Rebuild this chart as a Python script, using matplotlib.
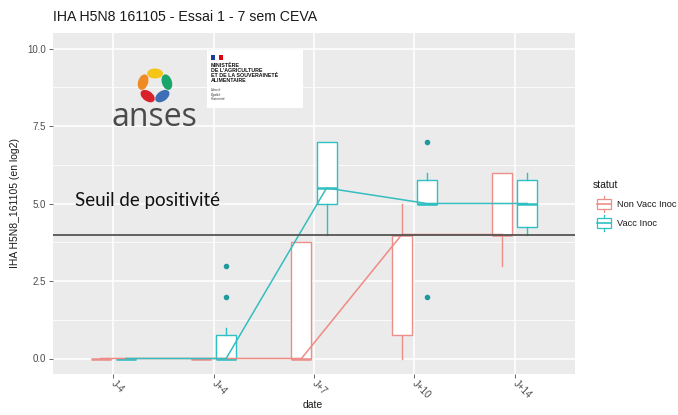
import matplotlib
matplotlib.use("Agg")
import math
import matplotlib.pyplot as plt
from matplotlib.patches import Rectangle, Ellipse
from matplotlib.lines import Line2D
from matplotlib.transforms import IdentityTransform

# ---------------- data ----------------
dates = ["J-4", "J+4", "J+7", "J+10", "J+14"]
groups = ["Non Vacc Inoc", "Vacc Inoc"]

nv_q1 = [0, 0, 0, 0.75, 4]
nv_med = [0, 0, 0, 4, 4]
nv_q3 = [0, 0, 3.75, 4, 6]
nv_lo = [0, 0, 0, 0, 3]
nv_hi = [0, 0, 3.75, 5, 6]
nv_out = [[], [], [], [], []]

v_q1 = [0, 0, 5, 5, 4.25]
v_med = [0, 0, 5.5, 5, 5]
v_q3 = [0, 0.75, 7, 5.75, 5.75]
v_lo = [0, 0, 4, 5, 4]
v_hi = [0, 1, 7, 6, 6]
v_out = [[], [2, 3], [], [7, 2], []]

threshold = 4.0
yticks = [0.0, 2.5, 5.0, 7.5, 10.0]

title = "IHA H5N8 161105 - Essai 1 - 7 sem CEVA"
ylabel = "IHA H5N8_161105 (en log2)"
xlabel = "date"
seuil_label = "Seuil de positivité"
legend_title = "statut"

# ---------------- style ----------------
PINK = "#EC8F8A"
TEAL = "#2EC0C3"
PINK_L = "#F08A84"
TEAL_L = "#35BDBF"
FLIER = "#229A9D"

plt.rcParams['font.family'] = ['Liberation Sans', 'DejaVu Sans']

W, H = 678, 415
fig = plt.figure(figsize=(W / 100, H / 100), dpi=100)
fig.patch.set_facecolor("white")

def fx(px):
    return px / W

def fy(py):
    return 1 - py / H

ax = fig.add_axes([fx(53), fy(374), fx(575) - fx(53), fy(33) - fy(374)])
ax.set_facecolor("#EBEBEB")
for s in ax.spines.values():
    s.set_visible(False)

ax.set_xlim(0.4, 5.6)
ax.set_ylim(-0.5, 10.5)

# grid
for yv in [1.25, 3.75, 6.25, 8.75]:
    ax.axhline(yv, color="white", lw=0.55, zorder=0)
for yv in yticks:
    ax.axhline(yv, color="white", lw=1.1, zorder=0)
for xv in range(1, len(dates) + 1):
    ax.axvline(xv, color="white", lw=1.1, zorder=0)

off = 0.125
bw = 0.2

def stats(q1, med, q3, lo, hi, out):
    return [dict(q1=a, med=b, q3=c, whislo=d, whishi=e, fliers=f)
            for a, b, c, d, e, f in zip(q1, med, q3, lo, hi, out)]

pos_nv = [i + 1 - off for i in range(len(dates))]
pos_v = [i + 1 + off for i in range(len(dates))]

for st, pos, col in [(stats(nv_q1, nv_med, nv_q3, nv_lo, nv_hi, nv_out), pos_nv, PINK),
                     (stats(v_q1, v_med, v_q3, v_lo, v_hi, v_out), pos_v, TEAL)]:
    ax.bxp(st, positions=pos, widths=bw, patch_artist=True, showcaps=False,
           boxprops=dict(facecolor="white", edgecolor=col, lw=1.0),
           whiskerprops=dict(color=col, lw=1.0),
           medianprops=dict(color=col, lw=1.8),
           flierprops=dict(marker="o", markersize=3, markerfacecolor=FLIER,
                           markeredgecolor=FLIER),
           manage_ticks=False, zorder=2)

ax.plot(pos_nv, nv_med, color=PINK_L, lw=1.1, zorder=3)
ax.plot(pos_v, v_med, color=TEAL_L, lw=1.1, zorder=3)

ax.axhline(threshold, color="#555555", lw=1.3, zorder=4)

ax.set_yticks(yticks)
ax.set_yticklabels([f"{v:.1f}" for v in yticks], fontsize=7, color="#4D4D4D")
ax.set_xticks(range(1, len(dates) + 1))
ax.set_xticklabels(dates, fontsize=7, color="#4D4D4D", rotation=-45,
                   rotation_mode="anchor", ha="left", va="center")
ax.tick_params(axis="both", length=3, color="#4D4D4D", width=0.6, pad=2)
ax.tick_params(axis="x", pad=3)

ax.set_ylabel(ylabel, fontsize=7.5, color="#1A1A1A", labelpad=5)
fig.text(fx(313), fy(405), xlabel, fontsize=7.5, color="#1A1A1A", ha="center", va="center")

fig.text(fx(53), fy(17), title, fontsize=10.2, color="#1A1A1A", ha="left", va="center")

# seuil annotation
fig.text(fx(75), fy(200), seuil_label, fontsize=13.5, color="#111111",
         family=["Lato", "DejaVu Sans"], ha="left", va="center")

# ---------------- legend (manual) ----------------
fig.text(fx(593), fy(185), legend_title, fontsize=7.5, color="#1A1A1A", ha="left", va="center")
for i, (lab, col) in enumerate(zip(groups, [PINK, TEAL])):
    cy = 204 + i * 19
    fig.patches.append(Rectangle((fx(597), fy(cy + 5)), fx(14), fy(0) - fy(10),
                                 transform=fig.transFigure, facecolor="white",
                                 edgecolor=col, lw=0.9))
    fig.lines.append(Line2D([fx(597), fx(611)], [fy(cy), fy(cy)],
                            transform=fig.transFigure, color=col, lw=1.2))
    fig.lines.append(Line2D([fx(604), fx(604)], [fy(cy - 5), fy(cy - 8)],
                            transform=fig.transFigure, color=col, lw=0.9))
    fig.lines.append(Line2D([fx(604), fx(604)], [fy(cy + 5), fy(cy + 8)],
                            transform=fig.transFigure, color=col, lw=0.9))
    fig.text(fx(617), fy(cy), lab, fontsize=6.7, color="#1A1A1A", ha="left", va="center")

# ---------------- logos (decoration) ----------------
cx, cy = 155, 86
petals = [(90, "#F5C518"), (18, "#1AA56B"), (-54, "#3C6FB5"),
          (-126, "#D8232A"), (162, "#F08A24")]
for ang, col in petals:
    r = 12.5
    px = cx + r * math.cos(math.radians(ang))
    py = cy - r * math.sin(math.radians(ang))
    e = Ellipse((px, H - py), 16, 10, angle=ang + 90,
                transform=IdentityTransform(), facecolor=col, edgecolor="none")
    fig.patches.append(e)
fig.text(fx(154), fy(117), "anses", fontsize=23, color="#4A4A4A",
         family=["Open Sans", "DejaVu Sans"], ha="center", va="center")

fig.patches.append(Rectangle((fx(207), fy(108)), fx(96), fy(0) - fy(58),
                             transform=fig.transFigure, facecolor="white",
                             edgecolor="none"))
fig.patches.append(Rectangle((fx(211), fy(60)), fx(4), fy(0) - fy(5),
                             transform=fig.transFigure, facecolor="#1F3C9A", edgecolor="none"))
fig.patches.append(Rectangle((fx(219), fy(60)), fx(4), fy(0) - fy(5),
                             transform=fig.transFigure, facecolor="#E1000F", edgecolor="none"))
fig.text(fx(211), fy(63), "MINISTÈRE\nDE L'AGRICULTURE\nET DE LA SOUVERAINETÉ\nALIMENTAIRE",
         fontsize=3.8, fontweight="bold", color="#111111", ha="left", va="top",
         linespacing=1.0)
fig.text(fx(211), fy(88), "Liberté\nÉgalité\nFraternité", fontsize=2.4, color="#333333",
         ha="left", va="top", linespacing=1.0, style="italic")

fig.savefig("out.png", dpi=100)
